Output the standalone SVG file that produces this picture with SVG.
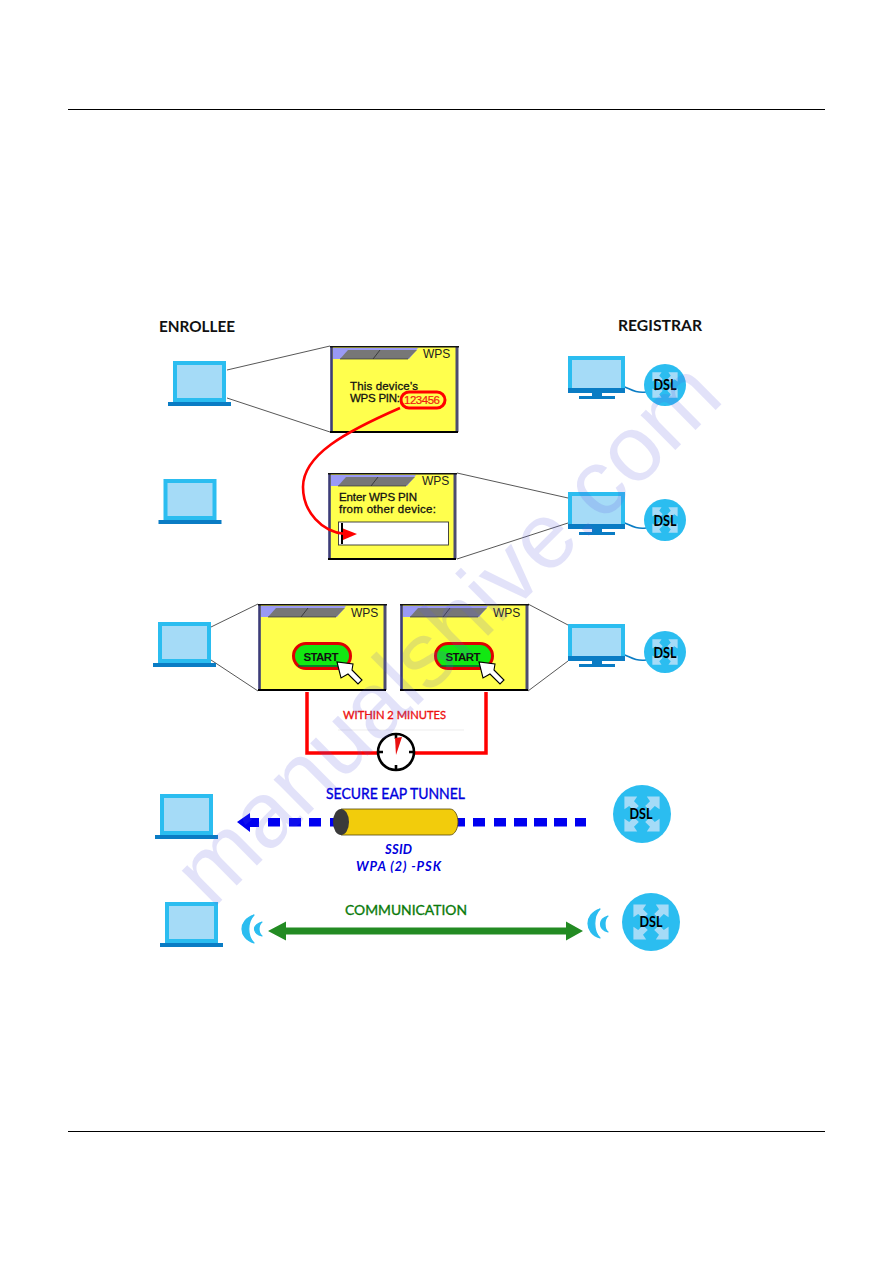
<svg xmlns="http://www.w3.org/2000/svg" width="893" height="1263" viewBox="0 0 893 1263">
<style>
.a{font-family:"Liberation Sans",Arial,sans-serif}
.g{font-family:Lato,"Liberation Sans",sans-serif;font-weight:700}
.m{font-family:Lato,"Liberation Sans",sans-serif;font-weight:400;stroke-width:.35}
.wt{font-size:12px;fill:#222}
.bd{font-size:11.5px;fill:#111;stroke:#111;stroke-width:.3}
.dsl{font-size:14.5px;fill:#000;text-anchor:middle}
.z{stroke:#444;stroke-width:.9;fill:none}
.cb{stroke:#0a7cc4;stroke-width:1.4;fill:none}
.start{font-size:11.5px;fill:#111;text-anchor:middle}
</style>
<defs>
<g id="win">
<rect x="1" y="1" width="127" height="85" fill="#ffff4d"/>
<path d="M3 2H88L79 13H3Z" fill="#9a9af5"/>
<path d="M10 13L18 4H87L78 13Z" fill="#777"/>
<path d="M43 13L50 4" stroke="#222" stroke-width=".7"/>
<path d="M10 13H78" stroke="#333" stroke-width=".7"/>
<path d="M1.500 1V86" stroke="#3c3c78" stroke-width="2.600"/>
<path d="M127 1V86" stroke="#4d4d70" stroke-width="3"/>
<path d="M0 .8H129" stroke="#111" stroke-width="1.400"/>
<path d="M0 86H128" stroke="#000" stroke-width="2"/>
</g>
<g id="lap">
<rect x="7" y="2" width="49" height="37" fill="#a5dbf7" stroke="#2bbdf0" stroke-width="4"/>
<rect x="0" y="41" width="63" height="4" fill="#0a7cc4"/>
</g>
<g id="mon">
<rect x="2" y="2" width="53" height="32" fill="#a5dbf7" stroke="#2bbdf0" stroke-width="4"/>
<rect x="0" y="32" width="57" height="5" fill="#0a7cc4"/>
<rect x="24" y="37" width="10" height="3" fill="#0a7cc4"/>
<rect x="11" y="40" width="36" height="3" fill="#0a7cc4"/>
</g>
<g id="arrows" fill="#a5dbf7">
<path d="M-11-11H-3L-5-8L-2-5L-5-2L-8-5L-11-3Z"/>
<path d="M11-11H3L5-8L2-5L5-2L8-5L11-3Z"/>
<path d="M-11 11H-3L-5 8L-2 5L-5 2L-8 5L-11 3Z"/>
<path d="M11 11H3L5 8L2 5L5 2L8 5L11 3Z"/>
</g>
<g id="ds"><circle r="21" fill="#2bbdf0"/><use href="#arrows" transform="scale(1.15)"/></g>
<g id="db"><circle r="29" fill="#2bbdf0"/><use href="#arrows" transform="scale(1.6)"/></g>
<path id="ptr" d="M0 0L4 16L11 12L21 22L25 18L15 8L16 2Z" fill="#fff" stroke="#000" stroke-width="1.100"/>
</defs>
<rect width="893" height="1263" fill="#fff"/>
<g id="page-rules" stroke="#000" stroke-width="1.200">
<path d="M68 109.500H825"/>
<path d="M68 1131.500H825"/>
</g>
<text class="g" x="159" y="332" font-size="16" fill="#111" textLength="76" lengthAdjust="spacingAndGlyphs">ENROLLEE</text>
<text class="g" x="618" y="331" font-size="16" fill="#111" textLength="84" lengthAdjust="spacingAndGlyphs">REGISTRAR</text>
<g id="connectors">
<path class="z" d="M227 370L330 346M227 398L330 432"/>
<path class="z" d="M457 473L568 498M457 559L568 523"/>
<path class="z" d="M211 627L258 604M211 660L258 691"/>
<path class="z" d="M528 604L568 625M528 691L568 661"/>
<path class="cb" d="M625 387C632 390 636 393 646 392"/>
<path class="cb" d="M625 523C632 526 636 529 646 528"/>
<path class="cb" d="M625 655C632 658 636 661 646 660"/>
<path d="M307 692V753H378M415 753H486V692" fill="none" stroke="#f00" stroke-width="3.500"/>
<path d="M338 730H464" stroke="#e8e8e8" stroke-width=".8"/>
<g id="tunnel-arrow-left" fill="#0000f0">
<path d="M237 822L250 813V818H259V827H250V832Z"/>
<rect x="268" y="818" width="12" height="8.500"/><rect x="289" y="818" width="12" height="8.500"/><rect x="309" y="818" width="12" height="8.500"/><rect x="330" y="818" width="6" height="8.500"/>
</g>
<g id="tunnel-dashes-right" fill="#0000f0">
<rect x="456" y="818" width="9" height="8.500"/><rect x="473" y="818" width="12" height="8.500"/><rect x="494" y="818" width="12" height="8.500"/><rect x="514" y="818" width="13" height="8.500"/><rect x="534" y="818" width="13" height="8.500"/><rect x="554" y="818" width="13" height="8.500"/><rect x="575" y="818" width="11" height="8.500"/>
</g>
<path id="comm-arrow" d="M268 931L286 921.500V927.500H566V921.500L583 931L566 940.500V934.500H286V940.500Z" fill="#238b23"/>
</g>
<g id="enrollee-1"><use href="#lap" transform="translate(168 361)"/></g>
<g id="enrollee-2"><use href="#lap" transform="translate(158.500 479)"/></g>
<g id="enrollee-3"><use href="#lap" transform="translate(153 622)"/></g>
<g id="enrollee-4"><use href="#lap" transform="translate(155 794)"/></g>
<g id="enrollee-5"><use href="#lap" transform="translate(160 902)"/></g>
<g id="registrar-1"><use href="#mon" transform="translate(568 356)"/></g>
<g id="registrar-2"><use href="#mon" transform="translate(568 492)"/></g>
<g id="registrar-3"><use href="#mon" transform="translate(568 624)"/></g>
<g id="dsl-1"><use href="#ds" x="665" y="385"/><text class="g dsl" x="665" y="390" textLength="23" lengthAdjust="spacingAndGlyphs">DSL</text></g>
<g id="dsl-2"><use href="#ds" x="665" y="520"/><text class="g dsl" x="665" y="526" textLength="23" lengthAdjust="spacingAndGlyphs">DSL</text></g>
<g id="dsl-3"><use href="#ds" x="665" y="652"/><text class="g dsl" x="665" y="658" textLength="23" lengthAdjust="spacingAndGlyphs">DSL</text></g>
<g id="dsl-4"><use href="#db" x="642" y="814"/><text class="g dsl" x="641" y="819" textLength="23" lengthAdjust="spacingAndGlyphs">DSL</text></g>
<g id="dsl-5"><use href="#db" x="651" y="922"/><text class="g dsl" x="651" y="927" textLength="23" lengthAdjust="spacingAndGlyphs">DSL</text></g>
<g id="window-pin-show">
<use href="#win" transform="translate(330 346)"/>
<text class="a wt" x="423" y="358">WPS</text>
<text class="a bd" x="350" y="390" textLength="68">This device's</text>
<text class="a bd" x="350" y="402" textLength="50">WPS PIN:</text>
<rect x="401" y="392" width="44" height="16" rx="8" fill="none" stroke="#f00" stroke-width="3"/>
<text class="a" x="404" y="404" font-size="11.500" fill="#f02010" stroke="#f02010" stroke-width=".2" textLength="36">123456</text>
</g>
<g id="window-pin-enter">
<use href="#win" transform="translate(328 473)"/>
<text class="a wt" x="422" y="485">WPS</text>
<text class="a bd" x="339" y="501" textLength="78">Enter WPS PIN</text>
<text class="a bd" x="339" y="513" textLength="97">from other device:</text>
<rect x="338.500" y="522" width="110" height="23" fill="#fff" stroke="#333" stroke-width=".9"/>
<path d="M342 523V544" stroke="#000" stroke-width="2"/>
</g>
<g id="window-start-1">
<use href="#win" transform="translate(258 604)"/>
<text class="a wt" x="351" y="617">WPS</text>
<rect x="293.500" y="643.500" width="57" height="25" rx="12.500" fill="#12e812" stroke="#e00000" stroke-width="3"/>
<path d="M298 666H346" stroke="#063" stroke-width="1.500"/>
<text class="a start" x="321" y="661" font-weight="700" textLength="35">START</text>
<use href="#ptr" transform="translate(337 662)"/>
</g>
<g id="window-start-2">
<use href="#win" transform="translate(400 604)"/>
<text class="a wt" x="493" y="617">WPS</text>
<rect x="435.500" y="643.500" width="57" height="25" rx="12.500" fill="#12e812" stroke="#e00000" stroke-width="3"/>
<path d="M440 666H488" stroke="#063" stroke-width="1.500"/>
<text class="a start" x="463" y="661" font-weight="700" textLength="35">START</text>
<use href="#ptr" transform="translate(479 662)"/>
</g>
<g id="pin-transfer">
<path d="M400 408C345 432 303 455 303 487C303 512 322 532 345 534" fill="none" stroke="#f00" stroke-width="2.600"/>
<path d="M357 534L343 528.500V540Z" fill="#f00"/>
</g>
<text class="m" x="343" y="719" font-size="12" fill="#ee1111" stroke="#ee1111" textLength="103" lengthAdjust="spacingAndGlyphs">WITHIN 2 MINUTES</text>
<g id="timer">
<circle cx="396" cy="752" r="18" fill="#fff" stroke="#000" stroke-width="2.600"/>
<path d="M396 734V739M396 765V770M378 752H383M409 752H414" stroke="#000" stroke-width="2.600"/>
<path d="M396 755L402 737L395 738Z" fill="#e81010"/>
</g>
<g id="tunnel">
<path d="M341 809H450C455 809 458 816 458 822C458 828 455 835 450 835H341Z" fill="#f2cc0c" stroke="#54460a" stroke-width=".8"/>
<ellipse cx="341" cy="822" rx="8" ry="13" fill="#3a3a3a"/>
</g>
<text class="m" x="326" y="799" font-size="14.500" fill="#0000dd" stroke="#0000dd" textLength="139" lengthAdjust="spacingAndGlyphs">SECURE EAP TUNNEL</text>
<text class="g" x="385" y="854" font-size="13" font-style="italic" fill="#0000dd" textLength="27">SSID</text>
<text class="g" x="356" y="871" font-size="13" font-style="italic" fill="#0000dd" textLength="85">WPA (2) -PSK</text>
<text class="m" x="345" y="915" font-size="14" fill="#0a7a0a" stroke="#0a7a0a" textLength="122" lengthAdjust="spacingAndGlyphs">COMMUNICATION</text>
<g id="wifi-left" fill="#2bbdf0" stroke="#2bbdf0" stroke-width="1.200" stroke-linejoin="round">
<path d="M254 915C238 920 238 938 254 943C247 936 247 922 254 915Z"/>
<path d="M262 922C252 925 252 933 262 936C258 933 258 925 262 922Z"/>
</g>
<g id="wifi-right" fill="#2bbdf0" stroke="#2bbdf0" stroke-width="1.200" stroke-linejoin="round">
<path d="M600 909C584 914 584 933 600 938C593 931 593 916 600 909Z"/>
<path d="M608 916C598 919 598 929 608 932C604 929 604 919 608 916Z"/>
</g>
<text id="watermark" class="a" x="212" y="910" font-size="93" fill="#5a5ae0" opacity=".17" transform="rotate(-44.800 212 910)" textLength="724">manualshive.com</text>
</svg>
